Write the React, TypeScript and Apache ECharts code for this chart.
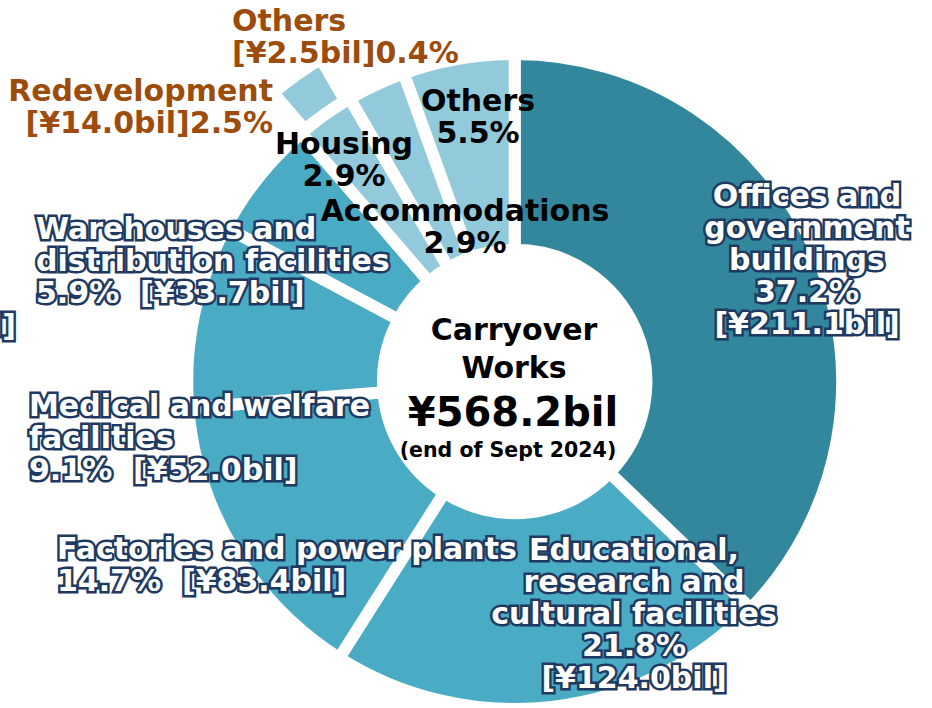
import React, { useEffect, useRef } from "react";
import * as echarts from "echarts";

// ---- data ----
const categories = [
  "Offices and\ngovernment\nbuildings",
  "Educational,\nresearch and\ncultural facilities",
  "Factories and power plants",
  "Medical and welfare\nfacilities",
  "Warehouses and\ndistribution facilities",
  "Housing",
  "Accommodations",
  "Others",
];
const shares = [37.2, 21.8, 14.7, 9.1, 5.9, 2.9, 2.9, 5.5];
const amounts: (number | null)[] = [211.1, 124.0, 83.4, 52.0, 33.7, null, null, null];

// Housing breakdown (callout piece)
const housingIndex = 5;
const subCategories = ["Others", "Redevelopment"];
const subShares = [0.4, 2.5];
const subAmounts = [2.5, 14.0];

const totalTitle = ["Carryover", "Works"];
const totalAmount = 568.2;
const totalNote = "(end of Sept 2024)";

// ---- styling / layout ----
const DARK = "#32879d";
const MID = "#4aabc5";
const LIGHT = "#93cadb";
const sliceColors = [DARK, MID, MID, MID, MID, LIGHT, LIGHT, LIGHT];
const FONT = "DejaVu Sans";

// label style: 'stack' = name / % / amount, 'inline' = name / % amount, 'short' = name / %
const labelLayout = [
  { x: 807, y: 179, align: "center", kind: "stack", tone: "white" },
  { x: 634, y: 533, align: "center", kind: "stack", tone: "white" },
  { x: 57, y: 532, align: "left", kind: "inline", tone: "white" },
  { x: 29, y: 389, align: "left", kind: "inline", tone: "white" },
  { x: 36, y: 212, align: "left", kind: "inline", tone: "white" },
  { x: 344, y: 127, align: "center", kind: "short", tone: "black" },
  { x: 465, y: 194, align: "center", kind: "short", tone: "black" },
  { x: 478, y: 84, align: "center", kind: "short", tone: "black" },
];
const subLabelLayout = [
  { x: 232, y: 4, align: "left" },
  { x: 273, y: 74, align: "right" },
];

const CX = 514.7;
const CY = 381.5;

function fmtAmt(v: number) {
  return "[¥" + v.toFixed(1) + "bil]";
}

function labelText(i: number) {
  const L = labelLayout[i];
  const pct = shares[i].toFixed(1) + "%";
  const a = amounts[i];
  if (L.kind === "stack" && a != null) return categories[i] + "\n" + pct + "\n" + fmtAmt(a);
  if (L.kind === "inline" && a != null) return categories[i] + "\n" + pct + "  " + fmtAmt(a);
  return categories[i] + "\n" + pct;
}

const whiteStyle = {
  fill: "#ffffff",
  stroke: "#1f3a60",
  lineWidth: 5,
  strokeFirst: true,
  shadowColor: "rgba(31,58,96,0.9)",
  shadowBlur: 4,
};
const blackStyle = { fill: "#000000" };
const orangeStyle = { fill: "#9c4d0e", stroke: "#ffffff", lineWidth: 3, strokeFirst: true };

export default function App() {
  const ref = useRef<HTMLDivElement>(null);
  useEffect(() => {
    if (!ref.current) return;
    const chart = echarts.init(ref.current, null, { renderer: "svg" });

    const graphics: any[] = [];
    labelLayout.forEach((L, i) => {
      const tone = L.tone === "white" ? whiteStyle : blackStyle;
      graphics.push({
        type: "text",
        x: L.x,
        y: L.y,
        z: 100,
        silent: true,
        style: {
          text: labelText(i),
          font: `bold 30px "${FONT}"`,
          align: L.align,
          verticalAlign: "top",
          lineHeight: 32,
          ...tone,
        },
      });
    });
    subCategories.forEach((c, i) => {
      const L = subLabelLayout[i];
      graphics.push({
        type: "text",
        x: L.x,
        y: L.y,
        z: 100,
        silent: true,
        style: {
          text: c + "\n" + fmtAmt(subAmounts[i]) + subShares[i].toFixed(1) + "%",
          font: `bold 30px "${FONT}"`,
          align: L.align,
          verticalAlign: "top",
          lineHeight: 32,
          ...orangeStyle,
        },
      });
    });
    // clipped remnant at the left edge
    graphics.push({
      type: "text",
      x: 16,
      y: 309,
      z: 100,
      silent: true,
      style: {
        text: "bil]",
        font: `bold 30px "${FONT}"`,
        align: "right",
        verticalAlign: "top",
        lineHeight: 32,
        ...whiteStyle,
      },
    });
    // centre texts
    const centre = [
      { t: totalTitle[0], x: 514, y: 329, s: 30 },
      { t: totalTitle[1], x: 514, y: 367, s: 30 },
      { t: "¥" + totalAmount.toFixed(1) + "bil", x: 513, y: 412, s: 40 },
      { t: totalNote, x: 508, y: 450, s: 20.5 },
    ];
    centre.forEach((c) => {
      graphics.push({
        type: "text",
        x: c.x,
        y: c.y,
        z: 100,
        silent: true,
        style: {
          text: c.t,
          font: `bold ${c.s}px "${FONT}"`,
          align: "center",
          verticalAlign: "middle",
          fill: "#000",
        },
      });
    });

    chart.setOption({
      animation: false,
      backgroundColor: "#ffffff",
      series: [
        {
          type: "pie",
          z: 1,
          silent: true,
          center: [CX, CY],
          radius: [323, 381.5],
          startAngle: 90,
          clockwise: true,
          label: { show: false },
          labelLine: { show: false },
          data: shares.map((v, i) => ({
            value: v,
            name: categories[i],
            itemStyle:
              i === housingIndex
                ? { color: LIGHT, borderColor: "#ffffff", borderWidth: 22 }
                : { color: "rgba(0,0,0,0)", borderWidth: 0 },
          })),
        },
        {
          type: "pie",
          z: 2,
          silent: true,
          center: [CX, CY],
          radius: [131.7, 327.5],
          startAngle: 90,
          clockwise: true,
          avoidLabelOverlap: false,
          label: { show: false },
          labelLine: { show: false },
          itemStyle: { borderColor: "#ffffff", borderWidth: 12 },
          data: shares.map((v, i) => ({
            value: v,
            name: categories[i],
            itemStyle: { color: sliceColors[i] },
          })),
        },
      ],
      graphic: graphics,
    });
    return () => chart.dispose();
  }, []);
  return (
    <div
      ref={ref}
      style={{ position: "fixed", left: 0, top: 0, width: 932, height: 708 }}
    />
  );
}
